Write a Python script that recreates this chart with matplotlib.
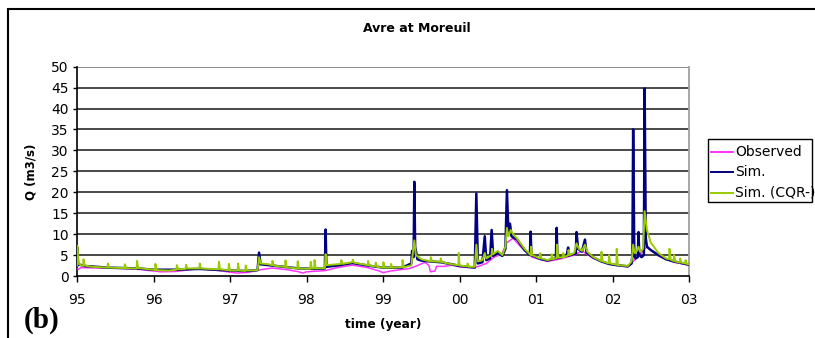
import matplotlib
matplotlib.use("Agg")
import matplotlib.pyplot as plt
from matplotlib.patches import Rectangle
from matplotlib.lines import Line2D

# ---------------- data (decimal years, m3/s) ----------------
obs_t = [1995.00, 1995.02, 1995.05, 1995.30, 1995.60, 1995.80, 1996.00, 1996.10, 1996.30,
         1996.50, 1996.70, 1996.90, 1997.00, 1997.10, 1997.25, 1997.40, 1997.55, 1997.75,
         1997.90, 1997.95, 1998.00, 1998.25, 1998.40, 1998.60, 1998.80, 1998.95, 1999.00,
         1999.10, 1999.35, 1999.45, 1999.55, 1999.60, 1999.62, 1999.68, 1999.70, 1999.80,
         1999.90, 2000.00, 2000.15, 2000.25, 2000.35, 2000.45, 2000.55, 2000.62, 2000.70,
         2000.80, 2000.95, 2001.15, 2001.30, 2001.50, 2001.60, 2001.75, 2002.00, 2002.20,
         2002.30, 2002.45, 2002.60, 2002.80, 2003.00]
obs_q = [1.8, 1.6, 2.0, 1.9, 1.8, 1.6, 1.2, 1.0, 1.1,
         1.6, 1.6, 1.2, 0.9, 0.7, 0.9, 1.5, 1.9, 1.5,
         1.0, 0.7, 1.0, 1.3, 2.0, 2.6, 2.0, 1.2, 0.8,
         1.2, 1.8, 2.5, 3.3, 2.5, 1.0, 1.2, 2.3, 2.3,
         2.6, 2.2, 2.0, 2.3, 3.0, 4.5, 5.2, 8.0, 9.0,
         7.0, 4.5, 3.5, 4.0, 5.0, 6.0, 4.2, 2.7, 2.2,
         4.0, 7.0, 4.8, 3.3, 2.6]

sim_t = [1995.00, 1995.005, 1995.015, 1995.10, 1995.40, 1995.80, 1996.00, 1996.30, 1996.60,
         1997.00, 1997.20, 1997.36, 1997.38, 1997.40, 1997.55, 1997.90, 1998.10, 1998.24,
         1998.25, 1998.26, 1998.40, 1998.60, 1998.80, 1999.00, 1999.25, 1999.37, 1999.38,
         1999.40, 1999.41, 1999.42, 1999.45, 1999.50, 1999.60, 1999.75, 1999.90, 2000.00,
         2000.20, 2000.22, 2000.24, 2000.30, 2000.33, 2000.35, 2000.40, 2000.42, 2000.44,
         2000.50, 2000.56, 2000.60, 2000.62, 2000.64, 2000.66, 2000.68, 2000.72, 2000.75,
         2000.85, 2000.92, 2000.93, 2000.94, 2001.05, 2001.15, 2001.26, 2001.27, 2001.28,
         2001.40, 2001.42, 2001.43, 2001.52, 2001.53, 2001.55, 2001.60, 2001.64, 2001.66,
         2001.75, 2001.85, 2001.95, 2002.05, 2002.20, 2002.25, 2002.26, 2002.27, 2002.285,
         2002.30, 2002.33, 2002.34, 2002.35, 2002.38, 2002.41, 2002.42, 2002.435, 2002.45,
         2002.50, 2002.60, 2002.70, 2002.80, 2002.90, 2003.00]
sim_q = [2.4, 6.8, 2.8, 2.4, 2.0, 1.8, 1.5, 1.5, 1.7,
         1.3, 1.2, 1.4, 5.6, 2.8, 2.5, 1.8, 1.7, 1.8,
         11.1, 2.2, 2.5, 3.1, 2.5, 2.0, 2.0, 3.0, 6.0,
         4.5, 22.5, 7.0, 4.0, 3.7, 3.5, 3.3, 2.8, 2.4,
         2.0, 19.7, 3.0, 3.3, 9.5, 3.8, 4.2, 11.0, 4.8,
         5.5, 4.8, 6.5, 20.5, 10.0, 12.5, 9.5, 9.0, 8.8,
         6.2, 5.0, 10.6, 5.0, 4.1, 3.7, 4.2, 11.5, 4.3,
         4.8, 6.8, 4.9, 5.4, 10.5, 6.5, 5.8, 8.7, 5.6,
         4.4, 3.5, 2.9, 2.6, 2.3, 3.0, 5.0, 35.0, 5.0,
         4.2, 4.5, 10.5, 5.0, 4.5, 5.0, 44.8, 9.0, 7.0,
         6.2, 5.0, 4.0, 3.5, 3.1, 2.7]

cqr_t = [1995.00, 1995.005, 1995.015, 1995.05, 1995.08, 1995.085, 1995.10, 1995.20, 1995.40,
         1995.405, 1995.42, 1995.60, 1995.62, 1995.625, 1995.64, 1995.78, 1995.785, 1995.80,
         1996.00, 1996.02, 1996.025, 1996.04, 1996.20, 1996.30, 1996.305, 1996.32, 1996.42,
         1996.425, 1996.44, 1996.60, 1996.605, 1996.62, 1996.85, 1996.855, 1996.87, 1996.98,
         1996.985, 1997.00, 1997.10, 1997.105, 1997.12, 1997.20, 1997.205, 1997.22, 1997.36,
         1997.38, 1997.40, 1997.50, 1997.55, 1997.555, 1997.57, 1997.70, 1997.72, 1997.725,
         1997.74, 1997.88, 1997.885, 1997.90, 1998.05, 1998.055, 1998.07, 1998.10, 1998.105,
         1998.12, 1998.24, 1998.25, 1998.26, 1998.40, 1998.45, 1998.455, 1998.47, 1998.60,
         1998.605, 1998.62, 1998.80, 1998.805, 1998.82, 1998.90, 1998.905, 1998.92, 1999.00,
         1999.005, 1999.02, 1999.10, 1999.105, 1999.12, 1999.25, 1999.255, 1999.27, 1999.37,
         1999.41, 1999.43, 1999.50, 1999.60, 1999.62, 1999.625, 1999.64, 1999.75, 1999.755,
         1999.77, 1999.90, 1999.985, 1999.99, 2000.00, 2000.10, 2000.105, 2000.12, 2000.20,
         2000.22, 2000.24, 2000.30, 2000.33, 2000.35, 2000.42, 2000.425, 2000.44, 2000.50,
         2000.56, 2000.60, 2000.62, 2000.64, 2000.67, 2000.70, 2000.75, 2000.85, 2000.93,
         2000.935, 2000.95, 2001.05, 2001.055, 2001.07, 2001.15, 2001.20, 2001.205, 2001.22,
         2001.27, 2001.275, 2001.29, 2001.35, 2001.355, 2001.37, 2001.42, 2001.425, 2001.44,
         2001.50, 2001.53, 2001.56, 2001.60, 2001.64, 2001.67, 2001.75, 2001.85, 2001.855,
         2001.87, 2001.95, 2001.955, 2001.97, 2002.05, 2002.055, 2002.07, 2002.20, 2002.25,
         2002.27, 2002.29, 2002.32, 2002.34, 2002.36, 2002.40, 2002.42, 2002.45, 2002.50,
         2002.60, 2002.70, 2002.74, 2002.745, 2002.76, 2002.80, 2002.805, 2002.82, 2002.88,
         2002.885, 2002.90, 2002.95, 2002.955, 2002.97, 2003.00]
cqr_q = [2.5, 7.2, 3.0, 2.6, 2.4, 4.0, 2.5, 2.2, 2.0,
         3.0, 2.0, 1.9, 1.9, 2.8, 1.9, 1.8, 3.6, 1.9,
         1.5, 1.4, 2.9, 1.4, 1.3, 1.5, 2.6, 1.6, 1.7,
         2.7, 1.8, 1.8, 3.0, 1.8, 1.6, 3.4, 1.6, 1.4,
         2.9, 1.3, 1.3, 3.0, 1.3, 1.2, 2.5, 1.3, 1.4,
         4.5, 3.0, 2.8, 2.6, 3.6, 2.5, 2.2, 2.2, 3.7,
         2.1, 1.8, 3.5, 1.8, 1.7, 3.4, 1.8, 1.8, 3.8,
         1.8, 1.9, 5.2, 2.6, 2.8, 2.9, 3.8, 2.9, 3.3,
         3.9, 3.2, 2.6, 3.6, 2.5, 2.3, 3.2, 2.2, 2.0,
         3.3, 2.0, 2.0, 2.9, 2.0, 2.1, 3.8, 2.1, 2.5,
         8.5, 5.0, 4.0, 3.6, 3.5, 4.5, 3.5, 3.4, 4.2,
         3.3, 2.8, 2.6, 5.5, 2.5, 2.3, 3.0, 2.2, 2.2,
         7.5, 3.5, 3.8, 5.5, 4.2, 5.0, 6.5, 5.2, 6.0,
         5.0, 7.0, 11.5, 9.5, 11.0, 10.0, 9.0, 6.5, 5.0,
         7.0, 5.0, 4.2, 5.5, 4.2, 3.8, 4.0, 5.2, 4.0,
         4.3, 7.5, 4.4, 4.5, 5.5, 4.5, 5.0, 6.2, 5.0,
         5.5, 7.8, 6.5, 6.0, 7.5, 5.8, 4.5, 3.6, 5.8,
         3.5, 3.0, 5.0, 3.0, 2.7, 6.5, 2.6, 2.4, 3.5,
         7.5, 5.5, 6.0, 7.0, 5.8, 6.5, 15.5, 11.0, 8.0,
         5.5, 4.2, 4.0, 6.5, 3.9, 3.6, 5.0, 3.5, 3.2,
         4.2, 3.2, 3.0, 3.8, 2.9, 2.8]

year_ticks = [1995, 1996, 1997, 1998, 1999, 2000, 2001, 2002, 2003]
year_labels = ["95", "96", "97", "98", "99", "00", "01", "02", "03"]
q_ticks = [0, 5, 10, 15, 20, 25, 30, 35, 40, 45, 50]

series_names = ["Observed", "Sim.", "Sim. (CQR-)"]
series_colors = ["#ff33ff", "#000080", "#99cc00"]

# ---------------- figure ----------------
W, H = 815, 338
plt.rcParams['font.family'] = ['DejaVu Sans']
fig = plt.figure(figsize=(W / 100, H / 100), dpi=100)

def fx(px):
    return px / W

def fy(py):
    return 1 - py / H

ax = fig.add_axes([fx(77), fy(276), fx(689) - fx(77), fy(66.7) - fy(276)])

ax.set_xlim(1995, 2003)
ax.set_ylim(0, 50)
for q in q_ticks[1:-1]:
    ax.axhline(q, color="#3a3a3a", lw=1.3, zorder=1)
ax.axhline(50, color="#808080", lw=1.3, zorder=1)

ax.plot(obs_t, obs_q, color=series_colors[0], lw=1.1, zorder=3)
ax.plot(sim_t, sim_q, color=series_colors[1], lw=1.8, zorder=4)
ax.plot(cqr_t, cqr_q, color=series_colors[2], lw=1.4, zorder=5)

ax.set_xticks(year_ticks)
ax.set_xticklabels(year_labels)
ax.set_yticks(q_ticks)
ax.tick_params(axis="x", direction="out", length=4, width=1, pad=8, labelsize=10)
ax.tick_params(axis="y", direction="out", length=3, width=1, pad=3, labelsize=10)

for s in ["left", "bottom"]:
    ax.spines[s].set_color("black")
    ax.spines[s].set_linewidth(1.2)
ax.spines["right"].set_color("#a0a0a0")
ax.spines["right"].set_linewidth(1.3)
ax.spines["top"].set_visible(False)

ax.set_ylabel("Q (m3/s)", fontsize=8.5, fontweight="bold", labelpad=10)
ax.set_xlabel("time (year)", fontsize=8.7, fontweight="bold", labelpad=8)

fig.text(fx(417), fy(29), "Avre at Moreuil", ha="center", va="center",
         fontsize=9, fontweight="bold")
fig.text(fx(24), fy(320), "(b)", ha="left", va="center", fontsize=21,
         fontweight="bold", family=["Liberation Serif", "DejaVu Serif"])

# outer frame (right and bottom edges lie outside the picture)
fig.patches.append(Rectangle((fx(8), -0.2), 1.2, fy(9) + 0.2, transform=fig.transFigure,
                             fill=False, edgecolor="black", lw=1.5, zorder=0))

# legend box (drawn by hand, its right part is cut by the picture edge)
fig.patches.append(Rectangle((fx(708), fy(202)), fx(812) - fx(708), fy(139) - fy(202),
                             transform=fig.transFigure, facecolor="white",
                             edgecolor="black", lw=1.0, zorder=6))
for name, col, py in zip(series_names, series_colors, [152, 172, 193]):
    fig.lines.append(Line2D([fx(711), fx(733)], [fy(py), fy(py)], transform=fig.transFigure,
                            color=col, lw=1.4, zorder=7))
    fig.text(fx(735), fy(py), name, ha="left", va="center", fontsize=10, zorder=7)

fig.savefig("out.png", dpi=100)
